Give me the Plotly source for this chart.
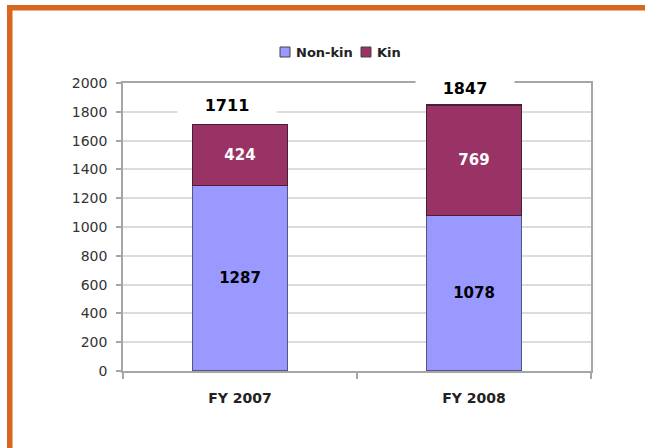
import plotly.graph_objects as go

categories = ["FY 2007", "FY 2008"]
series_names = ["Non-kin", "Kin"]
non_kin = [1287, 1078]
kin = [424, 769]
totals = [1711, 1847]
y_ticks = [0, 200, 400, 600, 800, 1000, 1200, 1400, 1600, 1800, 2000]

W, H = 645, 448
L, R, T, B = 123, 54, 83, 77
PW, PH = W - L - R, H - T - B

def px(x):
    return (x - L) / PW

def py(y):
    return (H - B - y) / PH

FONT = "DejaVu Sans, Verdana, sans-serif"
colors = ["#9999FF", "#993366"]
edges = ["#55557f", "#4a1f33"]
text_colors = ["black", "white"]

fig = go.Figure()
for name, vals, col, edge, tc in zip(series_names, [non_kin, kin], colors, edges, text_colors):
    fig.add_trace(go.Bar(
        name=name, x=categories, y=vals,
        marker=dict(color=col, line=dict(color=edge, width=1.2)),
        texttemplate="<b>%{y}</b>", textposition="inside", insidetextanchor="middle",
        textfont=dict(family=FONT, size=15, color=tc),
        showlegend=False,
    ))

# total labels with white backing box
x_shift = [-13, -9]
y_shift = [20, 17]
for c, t, xs, ys in zip(categories, totals, x_shift, y_shift):
    fig.add_annotation(
        x=c, y=t, xref="x", yref="y", text=f"<b>{t}</b>", showarrow=False,
        xshift=xs, yshift=ys, bgcolor="white", width=98, height=20, borderpad=0,
        font=dict(family=FONT, size=16, color="black"),
    )

# legend (drawn manually to match compact style)
leg_sq_x = [280, 361]
leg_txt_x = [294, 375]
for name, col, sx, tx in zip(series_names, colors, leg_sq_x, leg_txt_x):
    fig.add_shape(type="rect", xref="paper", yref="paper",
                  x0=px(sx), x1=px(sx + 10), y0=py(57), y1=py(47),
                  fillcolor=col, line=dict(color="#444444", width=1))
    fig.add_annotation(x=px(tx), y=py(52), xref="paper", yref="paper",
                       text=f"<b>{name}</b>", showarrow=False,
                       xanchor="left", yanchor="middle",
                       font=dict(family=FONT, size=13, color="#222222"))

# orange frame (top and left)
orange = "#D9661E"
fig.add_shape(type="rect", xref="paper", yref="paper",
              x0=px(7), x1=px(W + 5), y0=py(10.5), y1=py(5),
              fillcolor=orange, line=dict(width=0), layer="above")
fig.add_shape(type="rect", xref="paper", yref="paper",
              x0=px(7), x1=px(12.5), y0=py(H + 5), y1=py(5),
              fillcolor=orange, line=dict(width=0), layer="above")

fig.update_layout(
    width=W, height=H,
    margin=dict(l=L, r=R, t=T, b=B),
    barmode="stack", bargap=0.595,
    paper_bgcolor="white", plot_bgcolor="white",
    font=dict(family=FONT, color="#333333"),
    showlegend=False,
    xaxis=dict(type="category", showgrid=False, showline=True, linecolor="#a6a6a6", linewidth=1.5,
               mirror=True, ticks="outside", tickson="boundaries", ticklen=6, tickcolor="#a6a6a6",
               tickwidth=1.5, ticklabelstandoff=13,
               tickfont=dict(family=FONT, size=14, color="#222222"),
               tickvals=categories, ticktext=[f"<b>{c}</b>" for c in categories]),
    yaxis=dict(range=[0, 2000], tickvals=y_ticks, showgrid=True, gridcolor="#dcdcdc", gridwidth=1.5,
               showline=True, linecolor="#a6a6a6", linewidth=1.5, mirror=True,
               ticks="outside", ticklen=5, tickcolor="#a6a6a6", tickwidth=1.5, ticklabelstandoff=6,
               tickfont=dict(family=FONT, size=14, color="#333333"), zeroline=False),
)

fig.write_html("out.html", config={"displayModeBar": False},
               post_script="document.body.style.margin='0';document.body.style.overflow='hidden';")
